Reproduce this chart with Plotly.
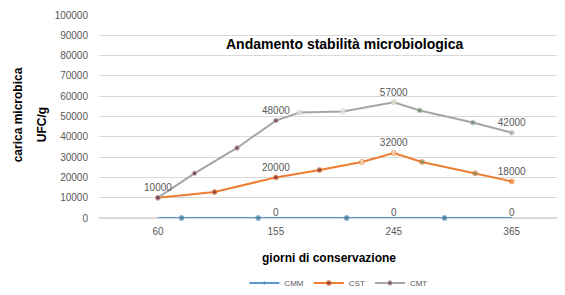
import plotly.graph_objects as go

# ---- data ----
categories = ["60", "155", "245", "365"]
cat_pos = [0, 1, 2, 3]

cmm_x = [0, 0.2, 0.85, 1, 1.6, 2, 2.43, 3]
cmm_y = [0, 0, 0, 0, 0, 0, 0, 0]

cst_x = [0, 0.48, 1, 1.37, 1.73, 2, 2.24, 2.69, 3]
cst_y = [10000, 12800, 20000, 23600, 27600, 32000, 27600, 22000, 18000]

cmt_x = [0, 0.31, 0.67, 1, 1.2, 1.57, 2, 2.22, 2.67, 3]
cmt_y = [10000, 22000, 34500, 48000, 52000, 52500, 57000, 53000, 47000, 42000]

y_ticks = list(range(0, 100001, 10000))

LBL = dict(family="Liberation Sans, Arial, sans-serif", size=10, color="#595959")


def labels(xs, ys, skip_first=False):
    out = []
    for x, y in zip(xs, ys):
        if x in cat_pos and not (skip_first and x == 0):
            out.append(str(y))
        else:
            out.append("")
    return out


def msizes(xs, hide_cats=False):
    return [0 if (hide_cats and x in cat_pos) else 5 for x in xs]


fig = go.Figure()

fig.add_trace(go.Scatter(
    x=cmm_x, y=cmm_y, name="CMM", mode="lines+markers+text",
    line=dict(color="#5B9BD5", width=2),
    marker=dict(size=msizes(cmm_x, hide_cats=True), color="#2E6F7A"),
    text=labels(cmm_x, cmm_y, skip_first=True), textposition="top center",
    textfont=LBL, cliponaxis=False,
))

cst_colors = ["#7a2b3b", "#7a2b3b", "#7a2b3b", "#7a2b3b", "#f3e3c8", "#f3e3c8",
              "#6b8f5a", "#6b8f5a", "#ED7D31"]
fig.add_trace(go.Scatter(
    x=cst_x, y=cst_y, name="CST", mode="lines+markers+text",
    line=dict(color="#ED7D31", width=2),
    marker=dict(size=msizes(cst_x), color=cst_colors),
    text=labels(cst_x, cst_y, skip_first=True), textposition="top center",
    textfont=LBL, cliponaxis=False,
))

cmt_colors = ["#6b3a4a", "#6b2c4a", "#6b2c4a", "#6b2c4a", "#eeeeee", "#eeeeee",
              "#e8e8d0", "#5f7f5f", "#5f7f5f", "#A5A5A5"]
fig.add_trace(go.Scatter(
    x=cmt_x, y=cmt_y, name="CMT", mode="lines+markers+text",
    line=dict(color="#A5A5A5", width=2),
    marker=dict(size=msizes(cmt_x), color=cmt_colors,
                line=dict(color="#c8c8c8", width=1)),
    text=labels(cmt_x, cmt_y), textposition="top center",
    textfont=LBL, cliponaxis=False,
))

fig.update_layout(
    width=565, height=295,
    margin=dict(l=91, r=0, t=7, b=85, autoexpand=False),
    paper_bgcolor="white", plot_bgcolor="white",
    font=dict(family="Liberation Sans, Arial, sans-serif", color="#595959"),
    showlegend=True,
    legend=dict(orientation="h", x=0.505, xanchor="center", y=-0.32,
                yanchor="middle", font=dict(size=8, color="#595959"),
                itemwidth=30, tracegroupgap=0),
    xaxis=dict(
        range=[-0.5, 3.52], tickmode="array", tickvals=cat_pos, ticktext=categories,
        showgrid=False, zeroline=False, showline=False, ticks="", automargin=False,
        tickfont=dict(size=10, color="#595959"), ticklabelstandoff=6,
    ),
    yaxis=dict(
        range=[0, 100000], tickmode="array", tickvals=y_ticks,
        ticktext=[str(v) for v in y_ticks], automargin=False,
        showgrid=True, gridcolor="#D9D9D9", gridwidth=1,
        zeroline=True, zerolinecolor="#D9D9D9", showline=False, ticks="",
        tickfont=dict(size=10, color="#595959"), ticklabelstandoff=10,
    ),
    annotations=[
        dict(text="<b>Andamento stabilità microbiologica</b>", xref="paper", yref="paper",
             x=0.518, y=0.857, showarrow=False, xanchor="center", yanchor="middle",
             font=dict(size=14, color="#000000")),
        dict(text="<b>giorni di conservazione</b>", xref="paper", yref="paper",
             x=0.485, y=-0.197, showarrow=False, xanchor="center", yanchor="middle",
             font=dict(size=12, color="#000000")),
        dict(text="<b>carica microbica</b>", xref="paper", yref="paper",
             x=-0.169, y=0.51, showarrow=False, xanchor="center", yanchor="middle",
             textangle=-90, font=dict(size=12, color="#000000")),
        dict(text="<b>UFC/g</b>", xref="paper", yref="paper",
             x=-0.121, y=0.46, showarrow=False, xanchor="center", yanchor="middle",
             textangle=-90, font=dict(size=12, color="#000000")),
    ],
)

fig.write_html("out.html")
